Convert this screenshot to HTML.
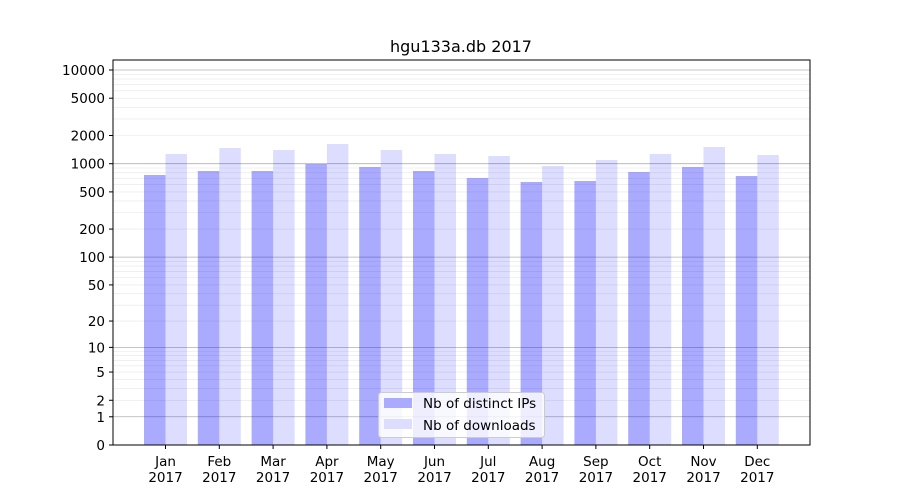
<!DOCTYPE html>
<html><head><meta charset="utf-8"><style>
body{margin:0;background:#fff;}
svg{display:block;font-family:"DejaVu Sans","Liberation Sans",sans-serif;}
</style></head><body>
<svg id="c" width="900" height="500" xmlns="http://www.w3.org/2000/svg">
<rect width="900" height="500" fill="#fff"/>
<g id="grid"></g>
<g id="bars"></g>
<rect x="113" y="60" width="697" height="385" fill="none" stroke="#000" stroke-width="1"/>
<g id="ticks" font-size="13.5"></g>
<text x="461" y="52" text-anchor="middle" font-size="16">hgu133a.db 2017</text>
<g>
<rect x="378.5" y="392.5" width="166" height="45" rx="3" fill="#fff" fill-opacity="0.8" stroke="#ccc"/>
<rect x="384" y="398" width="28" height="10" fill="#aaaaff"/>
<rect x="384" y="419" width="28" height="10" fill="#ddddff"/>
<text x="423" y="408" font-size="13.5">Nb of distinct IPs</text>
<text x="423" y="430" font-size="13.5">Nb of downloads</text>
</g>
</svg>
<script>
const NS="http://www.w3.org/2000/svg";
function el(p,t,a,txt){const e=document.createElementNS(NS,t);for(const k in a)e.setAttribute(k,a[k]);if(txt!==undefined)e.textContent=txt;document.getElementById(p).appendChild(e);return e;}
const Y=v=>445-93.75*Math.log10(1+v);
for(let d=1;d<=10000;d*=10){for(let m=1;m<10;m++){const v=d*m;const y=Y(v);if(y<60)continue;
 const major=(m==1);
 el("grid","line",{x1:113,x2:810,y1:y,y2:y,stroke:major?"#b0b0b0":"#e6e6e6","stroke-width":major?0.8:0.6});}}
const months=["Jan","Feb","Mar","Apr","May","Jun","Jul","Aug","Sep","Oct","Nov","Dec"];
const ip=[175,171,171,164,167,171,178,182,181,172,167,176];
const dl=[154,148,150,144,150,154,156,166,160,154,147,155];
months.forEach((m,i)=>{const c=165.5+i*53.8;
 el("bars","rect",{x:c-21.5,y:ip[i],width:21.5,height:445-ip[i],fill:"#0000ff","fill-opacity":0.333});
 el("bars","rect",{x:c,y:dl[i],width:21.5,height:445-dl[i],fill:"#0000ff","fill-opacity":0.133});
 el("ticks","line",{x1:c,x2:c,y1:445,y2:449,stroke:"#000"});
 el("ticks","text",{x:c,y:466,"text-anchor":"middle"},m);
 el("ticks","text",{x:c,y:482,"text-anchor":"middle"},"2017");
});
[0,1,2,5,10,20,50,100,200,500,1000,2000,5000,10000].forEach(v=>{const y=Y(v);
 el("ticks","line",{x1:109,x2:113,y1:y,y2:y,stroke:"#000"});
 el("ticks","text",{x:105,y:y+5,"text-anchor":"end"},String(v));});
</script>
</body></html>
